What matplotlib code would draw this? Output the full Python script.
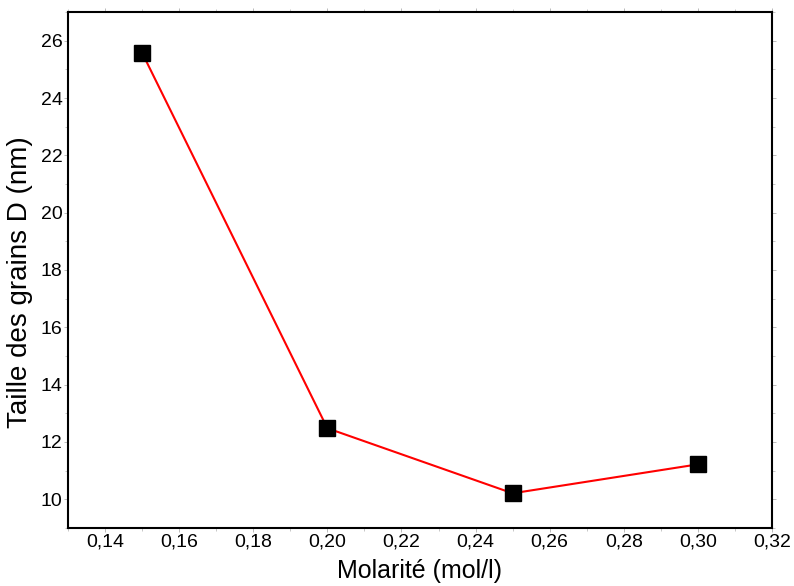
import matplotlib
matplotlib.use("Agg")
import matplotlib.pyplot as plt
from matplotlib.ticker import MultipleLocator, FuncFormatter

molarity = [0.15, 0.20, 0.25, 0.30]
grain_size = [25.58, 12.48, 10.21, 11.22]

plt.rcParams["font.family"] = ["Liberation Sans", "DejaVu Sans"]

fig = plt.figure(figsize=(7.94, 5.86), dpi=100)
ax = fig.add_axes([0.0856, 0.099, 0.8867, 0.8805])

ax.plot(molarity, grain_size, color="red", lw=1.5, zorder=2)
ax.plot(molarity, grain_size, ls="none", marker="s", ms=11, color="black", zorder=3)

ax.set_xlim(0.13, 0.32)
ax.set_ylim(9, 27)
ax.xaxis.set_major_locator(MultipleLocator(0.02))
ax.xaxis.set_minor_locator(MultipleLocator(0.01))
ax.yaxis.set_major_locator(MultipleLocator(2))
ax.yaxis.set_minor_locator(MultipleLocator(1))
ax.xaxis.set_major_formatter(FuncFormatter(lambda v, p: f"{v:.2f}".replace(".", ",")))
ax.yaxis.set_major_formatter(FuncFormatter(lambda v, p: f"{v:.0f}"))

ax.tick_params(which="both", direction="out", top=True, right=True,
               labelsize=14, color="#b0b0b0", pad=1)
ax.tick_params(which="major", length=3, width=0.6)
ax.tick_params(which="minor", length=2, width=0.5)
for s in ax.spines.values():
    s.set_linewidth(1.5)

ax.set_xlabel("Molarité (mol/l)", fontsize=18, labelpad=6)
ax.set_ylabel("Taille des grains D (nm)", fontsize=20)
ax.yaxis.set_label_coords(-0.05, 0.477)

fig.savefig("out.png", dpi=100)
